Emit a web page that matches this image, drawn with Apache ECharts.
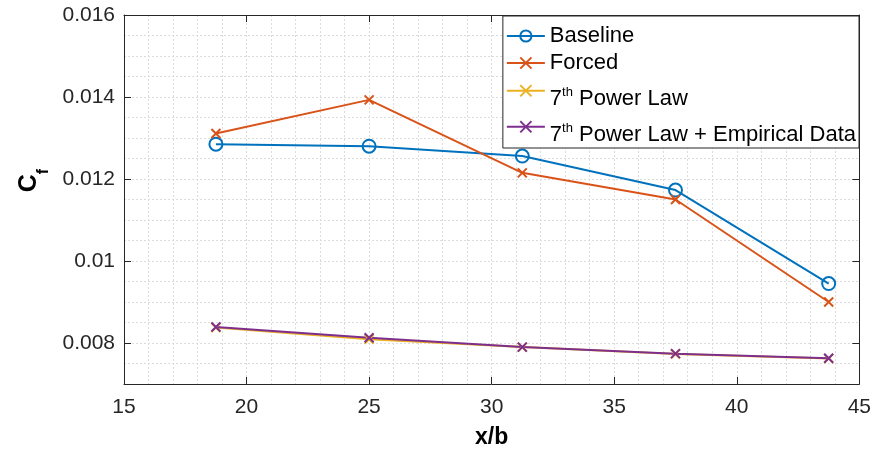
<!DOCTYPE html>
<html>
<head>
<meta charset="utf-8">
<script src="https://cdn.jsdelivr.net/npm/echarts@6/dist/echarts.min.js"></script>
<style>
  html, body { margin: 0; padding: 0; background: #fff; }
  #chart { width: 874px; height: 454px; }
</style>
</head>
<body>
<div id="chart"></div>
<script>
// x/b stations
const xValues = [18.75, 25, 31.25, 37.5, 43.75];
// skin friction coefficient per series
const baseline = [0.01285, 0.01280, 0.01256, 0.01173, 0.00945];
const forced = [0.01311, 0.01393, 0.01215, 0.01150, 0.00900];
const powerLaw = [0.00838, 0.00809, 0.00790, 0.00773, 0.00762];
const powerLawEmp = [0.00839, 0.00813, 0.00790, 0.00774, 0.00763];
const seriesNames = ["Baseline", "Forced", "7th Power Law", "7th Power Law + Empirical Data"];
// tick labels
const xTickLabels = [15, 20, 25, 30, 35, 40, 45];
const yTickLabels = [0.008, 0.01, 0.012, 0.014, 0.016];

const axisColor = "#262626";
const gridLine = { show: true, lineStyle: { color: "#dcdcdc", type: [2, 2], width: 1 } };
const crossPath = "path://M0,0L10,10M10,0L0,10";

function pairs(arr) {
  return xValues.map((x, i) => [x, arr[i]]);
}
function isTick(list, v) {
  return list.some((t) => Math.abs(t - v) < 1e-9);
}

function lineSeries(name, arr, color, symbol, size) {
  return {
    name: name,
    type: "line",
    xAxisIndex: 0,
    yAxisIndex: 0,
    data: pairs(arr),
    symbol: symbol,
    symbolSize: size,
    showAllSymbol: true,
    lineStyle: { color: color, width: 2 },
    itemStyle: {
      color: symbol === "circle" ? "rgba(0,0,0,0)" : color,
      borderColor: color,
      borderWidth: 2,
    },
    emphasis: { disabled: true },
  };
}

// frame axes: same scale as the data axes, only line + inward ticks
function frameAxis(pos, min, max, interval, ticks) {
  return {
    type: "value",
    position: pos,
    min: min,
    max: max,
    interval: interval,
    axisLine: { show: true, onZero: false, lineStyle: { color: axisColor, width: 1 } },
    axisTick: { show: true, inside: true, length: 7, customValues: ticks, lineStyle: { color: axisColor } },
    axisLabel: { show: false },
    splitLine: { show: false },
  };
}

const chart = echarts.init(document.getElementById("chart"));
const option = {
  animation: false,
  textStyle: { fontFamily: "Liberation Sans, Arial, sans-serif" },
  grid: { left: 124, right: 13, top: 15, bottom: 70 },
  legend: {
    orient: "vertical",
    top: 16,
    right: 15,
    padding: [9, 3, 2, 3],
    itemGap: 5,
    itemWidth: 38,
    itemHeight: 14,
    borderColor: axisColor,
    borderWidth: 1,
    backgroundColor: "#fff",
    data: seriesNames,
    formatter: function (name) {
      if (name.indexOf("7th") === 0) {
        return "{m|7}{s|th}{m|" + name.slice(3) + "}";
      }
      return "{n|" + name + "}";
    },
    textStyle: {
      color: "#000",
      fontSize: 22,
      rich: {
        n: { fontSize: 22, lineHeight: 23.5, color: "#000" },
        m: { fontSize: 22, lineHeight: 23.5, verticalAlign: "top", padding: [9, 0, 0, 0], color: "#000" },
        s: { fontSize: 13, lineHeight: 14, verticalAlign: "top", padding: [7, 0, 0, 0], color: "#000" },
      },
    },
  },
  xAxis: [
    {
      type: "value",
      min: 15,
      max: 45,
      interval: 1,
      name: "x/b",
      nameLocation: "middle",
      nameGap: 42,
      nameTextStyle: { fontSize: 23, fontWeight: "bold", color: "#000" },
      axisLine: { show: false },
      axisTick: { show: false },
      axisLabel: {
        margin: 13,
        fontSize: 21,
        color: axisColor,
        formatter: (v) => (isTick(xTickLabels, v) ? String(Math.round(v)) : ""),
      },
      splitLine: gridLine,
    },
    frameAxis("bottom", 15, 45, 5, xTickLabels),
    frameAxis("top", 15, 45, 5, xTickLabels),
  ],
  yAxis: [
    {
      type: "value",
      min: 0.007,
      max: 0.016,
      interval: 0.0005,
      name: "{c|C}{f|f}",
      nameLocation: "middle",
      nameRotate: 90,
      nameGap: 80,
      nameTextStyle: {
        padding: [0, 0, 0, 38],
        rich: {
          c: { fontSize: 25, fontWeight: "bold", lineHeight: 26, verticalAlign: "top", color: "#000" },
          f: { fontSize: 16, fontWeight: "bold", lineHeight: 14, verticalAlign: "top", padding: [19, 0, 0, 0], color: "#000" },
        },
      },
      axisLine: { show: false },
      axisTick: { show: false },
      axisLabel: {
        margin: 9,
        fontSize: 21,
        color: axisColor,
        formatter: (v) => (isTick(yTickLabels, v) ? String(+v.toFixed(3)) : ""),
      },
      splitLine: gridLine,
    },
    frameAxis("left", 0.007, 0.016, 0.001, yTickLabels),
    frameAxis("right", 0.007, 0.016, 0.001, yTickLabels),
  ],
  series: [
    lineSeries(seriesNames[0], baseline, "#0072BD", "circle", 13),
    lineSeries(seriesNames[1], forced, "#D95319", crossPath, 9),
    lineSeries(seriesNames[2], powerLaw, "#EDB120", crossPath, 9),
    lineSeries(seriesNames[3], powerLawEmp, "#7E2F8E", crossPath, 9),
  ],
};
chart.setOption(option);
</script>
</body>
</html>
